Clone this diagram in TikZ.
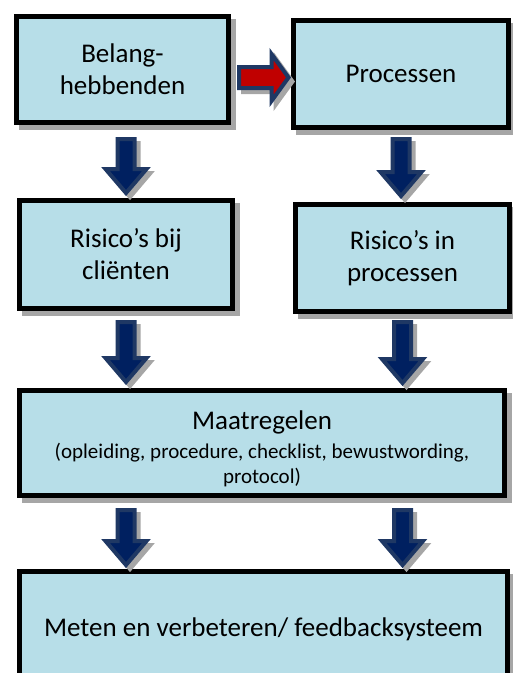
\documentclass[tikz,border=0pt]{standalone}
\usepackage{fontspec}
\setmainfont{Carlito}
\usetikzlibrary{calc,shadows}

\definecolor{boxblue}{HTML}{B7DEE8}
\definecolor{arrownavy}{HTML}{002060}
\definecolor{arrowedge}{HTML}{1F3864}
\definecolor{arrowred}{HTML}{C00000}
\definecolor{shadowgray}{HTML}{A6A6A6}

\tikzset{
    box/.style={draw=black, line width=5pt, fill=boxblue, align=center, inner sep=0pt,
        font=\fontsize{27}{32}\selectfont,
        drop shadow={shadow xshift=5pt, shadow yshift=-5pt, opacity=1, fill=shadowgray, draw=shadowgray, line width=5pt}},
    blockarrow/.style={draw=arrowedge, line width=4pt, fill=arrownavy, line join=miter,
        drop shadow={shadow xshift=4pt, shadow yshift=-4pt, opacity=1, fill=shadowgray, draw=shadowgray, line width=4pt}},
}

\newcommand{\downblock}[2]{%
    \draw[blockarrow] let \p1=(#1), \p2=(#2) in
        (\x1-8.5pt,\y1) -- (\x1+8.5pt,\y1) -- (\x1+8.5pt,\y2+24pt) -- (\x1+20.5pt,\y2+24pt)
        -- (\x1,\y2) -- (\x1-20.5pt,\y2+24pt) -- (\x1-8.5pt,\y2+24pt) -- cycle;}
\newcommand{\rightblock}[2]{%
    \draw[blockarrow, fill=arrowred] let \p1=(#1), \p2=(#2) in
        (\x1,\y1+10.5pt) -- (\x2-17pt,\y1+10.5pt) -- (\x2-17pt,\y1+23.5pt) -- (\x2,\y1)
        -- (\x2-17pt,\y1-23.5pt) -- (\x2-17pt,\y1-10.5pt) -- (\x1,\y1-10.5pt) -- cycle;}

\begin{document}
\begin{tikzpicture}[x=1pt, y=-1pt]
        \clip (0,0) rectangle (513,673);

        \node[box, minimum width=212pt, minimum height=106pt] (box1) at (122.5,69.5) {Belang-\\hebbenden};
        \node[box, minimum width=215pt, minimum height=107pt] (box2) at (401,74) {Processen};
        \node[box, minimum width=213pt, minimum height=108pt] (box3) at (126,254.5) {Risico’s bij\\cliënten};
        \node[box, minimum width=214pt, minimum height=107pt] (box4) at (402.5,258) {Risico’s in\\processen};
        \node[box, minimum width=485pt, minimum height=105pt, text width=480pt, align=flush center] (box5) at (262,443)
            {{\fontsize{27}{29}\selectfont \rule{0pt}{31pt}Maatregelen\par}\vspace{4pt}
             {\fontsize{21}{25}\selectfont (opleiding, procedure, checklist, bewustwording,\\ protocol)\par}};
        \node[box, minimum width=488pt, minimum height=115pt] (box6) at (263.5,629) {Meten en verbeteren/ feedbacksysteem};

        \coordinate (red start) at ($(box1.east |- box2.west)+(8,3.5)$);
        \coordinate (red tip) at ($(box2.west)+(-2.5,3.5)$);
        \rightblock{red start}{red tip}

        \coordinate (down1 top) at ($(box1.south -| box3.north)+(0,14)$);
        \coordinate (down1 tip) at ($(box3.north)+(0,-5)$);
        \coordinate (down2 top) at ($(box2.south)+(0,9)$);
        \coordinate (down2 tip) at ($(box4.north -| box2.south)+(0,-6)$);
        \coordinate (down3 top) at ($(box3.south)+(0,11)$);
        \coordinate (down3 tip) at ($(box5.north -| box3.south)+(0,-6)$);
        \coordinate (down4 top) at ($(box4.south)+(0,8)$);
        \coordinate (down4 tip) at ($(box5.north -| box4.south)+(0,-5)$);
        \coordinate (down5 top) at ($(box5.south -| box3.south)+(0,12)$);
        \coordinate (down5 tip) at ($(box6.north -| box3.south)+(0,-4)$);
        \coordinate (down6 top) at ($(box5.south -| box4.south)+(0,12)$);
        \coordinate (down6 tip) at ($(box6.north -| box4.south)+(0,-4)$);
        \foreach \i in {1,...,6} {
            \downblock{down\i\space top}{down\i\space tip}
        }
\end{tikzpicture}
\end{document}
